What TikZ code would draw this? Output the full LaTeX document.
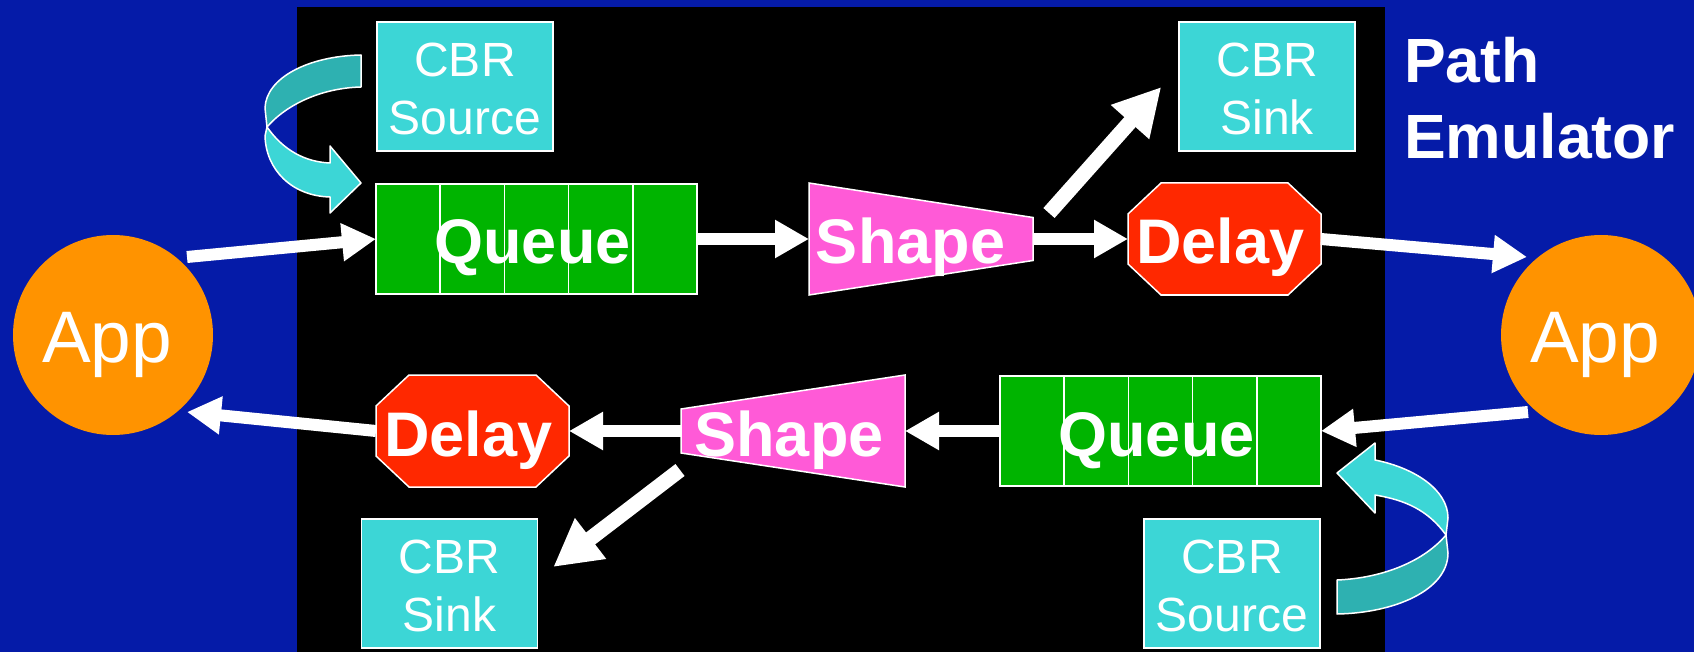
\documentclass[tikz,border=0pt]{standalone}
\usepackage{fontspec}
\setmainfont{Liberation Sans}
\usetikzlibrary{arrows.meta,calc}
\pgfdeclarelayer{bgl}
\pgfdeclarelayer{back}
\pgfsetlayers{bgl,back,main}
\definecolor{bgblue}{RGB}{5,27,168}
\definecolor{cbrc}{RGB}{60,214,214}
\definecolor{ribdark}{RGB}{46,177,177}
\definecolor{qgreen}{RGB}{0,180,0}
\definecolor{shpink}{RGB}{255,90,215}
\definecolor{dlred}{RGB}{255,40,0}
\definecolor{apporange}{RGB}{255,147,0}
\begin{document}
\begin{tikzpicture}[x=1pt,y=-1pt,
  cbr/.style={draw=white,line width=1.5pt,fill=cbrc,minimum width=176pt,minimum height=129pt,inner sep=0pt,text=white,align=center,font=\fontsize{48}{58}\selectfont},
  lbl/.style={text=white,font=\bfseries\fontsize{63}{75}\selectfont,inner sep=0pt,outer sep=0pt,text height=50pt,text depth=0pt,execute at begin node={\hspace*{-8pt}}},
  qbox/.style={lbl,draw=white,line width=1.5pt,fill=qgreen,minimum width=321pt,minimum height=110pt},
  shapebox/.style={lbl,minimum width=224pt,minimum height=112pt},
  delaybox/.style={lbl,minimum width=193pt,minimum height=112pt},
  polyline/.style={draw=white,line width=1.5pt,line join=miter},
  app/.style={circle,fill=apporange,minimum size=200pt,inner sep=0pt,text=white,font=\fontsize{73}{86}\selectfont,text height=54pt,text depth=0pt,execute at begin node={\hspace*{-12pt}}},
  flow/.style={draw=white,line width=12pt,-{Triangle[length=34pt,width=36pt]}},
  diag/.style={draw=white,line width=15pt,-{Triangle[length=47pt,width=48pt]}},
  ribbonlight/.style={fill=cbrc,draw=white,line width=1.5pt,line join=round},
  ribbondark/.style={fill=ribdark,draw=white,line width=1.5pt,line join=round},
  cell/.style={draw=white,line width=1.5pt}
]
\useasboundingbox (0,0) rectangle (1694,652);
\begin{pgfonlayer}{bgl}
  \fill[bgblue] (0,0) rectangle (1694,652);
  \fill[black] (297,7) rectangle (1385,652);
\end{pgfonlayer}

% curved ribbon arrows
\path[ribbondark] (361,55) .. controls (308,56) and (266,78) .. (265,108) -- (267,127) .. controls (287,104) and (322,88) .. (361,87) -- cycle;
\path[ribbonlight] (267,127) .. controls (283,150) and (305,162) .. (330,163) -- (330,146) -- (361,183) -- (330,213) -- (330,197) .. controls (292,196) and (266,170) .. (265,136) -- cycle;
\path[ribbonlight] (1375,460) .. controls (1415,468) and (1448,490) .. (1448,518) -- (1446,535) .. controls (1428,510) and (1405,500) .. (1375,495) -- (1375,513) -- (1337,473) -- (1375,443) -- cycle;
\path[ribbondark] (1446,535) .. controls (1425,560) and (1385,578) .. (1337,580) -- (1337,614) .. controls (1395,613) and (1448,590) .. (1448,553) -- cycle;

% CBR boxes
\node[cbr] (cbrST) at (465,86.5) {\rule{0pt}{38pt}CBR\\Source};
\node[cbr] (cbrKT) at (1267,86.5) {\rule{0pt}{38pt}CBR\\Sink};
\node[cbr] (cbrKB) at (449.5,583.5) {\rule{0pt}{38pt}CBR\\Sink};
\node[cbr] (cbrSB) at (1232,583.5) {\rule{0pt}{38pt}CBR\\Source};

% queues
\node[qbox] (queueT) at (536.5,239) {Queue};
\node[qbox] (queueB) at (1160.5,431) {Queue};
\foreach \q in {queueT,queueB}{
  \foreach \i in {1,...,4}{
    \draw[cell] ($(\q.north west)+(64.2*\i,0)$) -- ($(\q.south west)+(64.2*\i,0)$);
  }
}

% shapers and delays
\node[shapebox,execute at begin node={\hspace*{-13pt}}] (shapeT) at (921,239) {Shape};
\node[shapebox] (shapeB) at (793,431) {Shape};
\node[delaybox] (delayT) at (1224.5,239) {Delay};
\node[delaybox] (delayB) at (472.5,431) {Delay};
\begin{pgfonlayer}{back}
  \path[polyline,fill=shpink] (shapeT.north west) -- ($(shapeT.east)+(0,-21.5)$) -- ($(shapeT.east)+(0,21.5)$) -- (shapeT.south west) -- cycle;
  \path[polyline,fill=shpink] (shapeB.north east) -- ($(shapeB.west)+(0,-22)$) -- ($(shapeB.west)+(0,22)$) -- (shapeB.south east) -- cycle;
  \foreach \d in {delayT,delayB}{
    \path[polyline,fill=dlred] ($(\d.north west)+(33,0)$) -- ($(\d.north east)+(-33,0)$) -- ($(\d.north east)+(0,31)$) -- ($(\d.south east)+(0,-31)$) -- ($(\d.south east)+(-33,0)$) -- ($(\d.south west)+(33,0)$) -- ($(\d.south west)+(0,-31)$) -- ($(\d.north west)+(0,31)$) -- cycle;
  }
\end{pgfonlayer}

% applications
\node[app] (appL) at (113,335) {App};
\node[app] (appR) at (1601,335) {App};

% title
\node[anchor=north west,text=white,font=\bfseries\fontsize{62.5}{76}\selectfont,align=left,inner sep=0pt] (pathEm) at (1404,37.5) {Path\\Emulator};

% arrows, top path
\draw[flow] ($(appL.center)+(74,-78)$) -- (queueT.west);
\draw[flow] (queueT.east) -- (shapeT.west);
\draw[flow] (shapeT.east) -- (delayT.west);
\draw[diag] ($(shapeT.north east)+(16,30)$) -- ($(cbrKT.west)+(-17,0.5)$);
\draw[flow] (delayT.east) -- ($(appR.center)+(-74,-78)$);
% arrows, bottom path
\draw[flow] ($(appR.center)+(-73,77)$) -- (queueB.east);
\draw[flow] (queueB.west) -- (shapeB.east);
\draw[flow] (shapeB.west) -- (delayB.east);
\draw[flow] (delayB.west) -- ($(appL.center)+(74,77)$);
\draw[diag] ($(shapeB.south west)+(-1,-17)$) -- ($(cbrKB.east)+(15,-16.5)$);
\end{tikzpicture}
\end{document}
